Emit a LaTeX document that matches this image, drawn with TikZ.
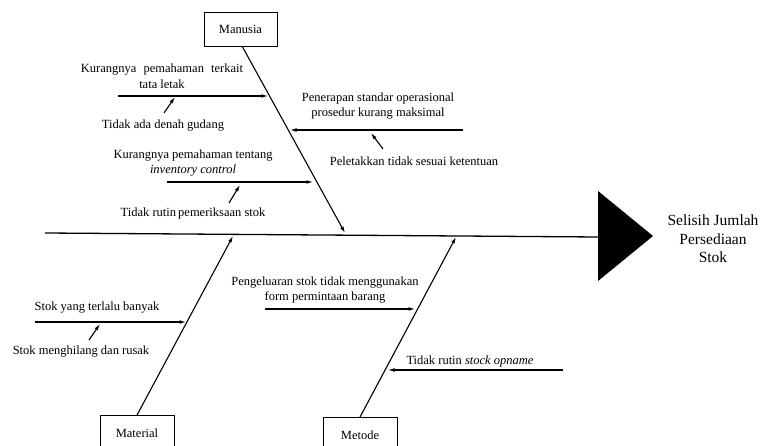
\documentclass[tikz,border=0pt]{standalone}
\usepackage{fontspec}
\setmainfont{Liberation Serif}
\usetikzlibrary{arrows.meta,positioning}

\begin{document}
\begin{tikzpicture}[
        x=1pt, y=-1pt,
        every node/.style={inner sep=0pt, align=center, font=\fontsize{12.5}{15.5}\selectfont},
        every path/.style={line width=1pt},
        >={Latex[length=6.5pt,width=3.8pt]},
        category/.style={draw, line width=0.8pt, minimum width=74pt, minimum height=35pt},
        bone/.style={->, line width=1.1pt},
        cause/.style={->, line width=1.1pt}
    ]
  \useasboundingbox (0,0) rectangle (761,446);

  % Nodes
  \node (manusia) [category, minimum width=73pt, minimum height=34pt] at (240.5,29.5) {Manusia};
  \node (material) [category] at (137,433) {Material};
  \node (metode) [category] at (360,435) {Metode};
  \node (effect) [font=\fontsize{15.5}{18.5}\selectfont] at (713,239) {Selisih Jumlah\\Persediaan\\Stok};

  % head and spine
  \coordinate (tail) at (45,233);
  \coordinate (head) at (598,237);
  \fill (598,191) -- (653,236) -- (598,281) -- cycle;
  \draw[line width=1.3pt] (tail) -- (head);

  % main bones
  \coordinate (manusiaEnd) at (345,233);
  \coordinate (materialEnd) at (233,236);
  \coordinate (metodeEnd) at (456,237);
  \draw[bone] ([xshift=2pt]manusia.south) -- (manusiaEnd);
  \draw[bone] (material.north) -- (materialEnd);
  \draw[bone] (metode.north) -- (metodeEnd);

  % Manusia causes
  \node (layout) at (162,76) {Kurangnya\hspace{4pt} pemahaman\hspace{4pt} terkait\\tata letak};
  \coordinate (layoutA) at (118,96);
  \coordinate (layoutB) at (268,96);
  \draw[cause] (layoutA) -- (layoutB);
  \node (denah) at (163,126) {Tidak ada denah gudang};
  \draw[cause] (164,113) -- (175,97);

  \node (inventory) at (193,163) {Kurangnya pemahaman tentang\\\textit{inventory control}};
  \coordinate (inventoryA) at (167,182);
  \coordinate (inventoryB) at (313,182);
  \draw[cause] (inventoryA) -- (inventoryB);
  \node (periksa) at (193,213) {Tidak rutin\,pemeriksaan stok};
  \draw[cause] (229,203) -- (240,185);

  \node (sop) at (378,106) {Penerapan standar operasional\\prosedur kurang maksimal};
  \coordinate (sopA) at (463,130);
  \coordinate (sopB) at (290,130);
  \draw[cause] (sopA) -- (sopB);
  \node (letak) at (414,161) {Peletakkan tidak sesuai ketentuan};
  \draw[cause] (383,149) -- (371,133);

  % Metode causes
  \node (form) at (325,290) {Pengeluaran stok tidak menggunakan\\form permintaan barang};
  \coordinate (formA) at (265,309);
  \coordinate (formB) at (415,309);
  \draw[cause] (formA) -- (formB);

  \node (opname) at (470,361) {Tidak rutin \textit{stock opname}};
  \coordinate (opnameA) at (563,370);
  \coordinate (opnameB) at (388,370);
  \draw[cause] (opnameA) -- (opnameB);

  % Material causes
  \node (banyak) at (97,308) {Stok yang terlalu banyak};
  \coordinate (banyakA) at (35,322);
  \coordinate (banyakB) at (186,322);
  \draw[cause] (banyakA) -- (banyakB);
  \node (rusak) at (81,352) {Stok menghilang dan rusak};
  \draw[cause] (89,340) -- (100,324);
\end{tikzpicture}
\end{document}
